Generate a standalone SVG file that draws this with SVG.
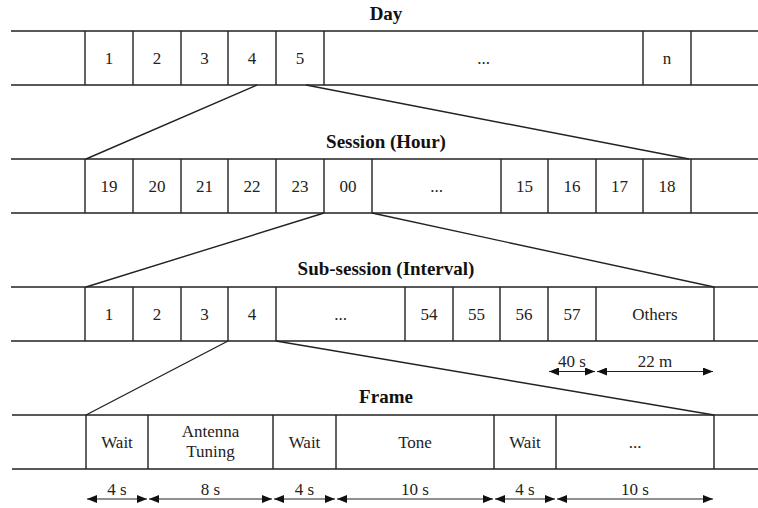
<svg xmlns="http://www.w3.org/2000/svg" width="758" height="508" viewBox="0 0 758 508">
<defs>
<style>
.ln{stroke:#222;stroke-width:1.4;fill:none}
.t{font-size:17px;fill:#222;text-anchor:middle}
.h{font-size:19px;font-weight:bold;fill:#111;text-anchor:middle}
.ar{stroke:#222;stroke-width:1.2;fill:none;marker-start:url(#a);marker-end:url(#a)}
</style>
<marker id="a" viewBox="0 0 10 8" refX="10" refY="4" markerWidth="10" markerHeight="8" markerUnits="userSpaceOnUse" orient="auto-start-reverse">
<path d="M0,0 L10,4 L0,8 Z" fill="#111"/>
</marker>
</defs>
<rect width="758" height="508" fill="#fff"/>
<g font-family="'Liberation Serif', 'Times New Roman', Times, 'DejaVu Serif', serif">
<text class="h" x="386" y="20">Day</text>
<text class="h" x="386" y="148">Session (Hour)</text>
<text class="h" x="386" y="275">Sub-session (Interval)</text>
<text class="h" x="386" y="403">Frame</text>

<g id="row-day">
<path class="ln" d="M11,31 H758 M11,85 H758 M85,31 V85 M133,31 V85 M181,31 V85 M228,31 V85 M276,31 V85 M324,31 V85 M643,31 V85 M691,31 V85"/>
<text class="t" x="109" y="64">1</text>
<text class="t" x="157" y="64">2</text>
<text class="t" x="204.5" y="64">3</text>
<text class="t" x="252" y="64">4</text>
<text class="t" x="300" y="64">5</text>
<text class="t" x="483.5" y="64">...</text>
<text class="t" x="667" y="64">n</text>
</g>

<g id="row-session">
<path class="ln" d="M11,159 H758 M11,213 H758 M85,159 V213 M133,159 V213 M181,159 V213 M228,159 V213 M276,159 V213 M324,159 V213 M372,159 V213 M501,159 V213 M548,159 V213 M596,159 V213 M643,159 V213 M691,159 V213"/>
<text class="t" x="109" y="192">19</text>
<text class="t" x="157" y="192">20</text>
<text class="t" x="204.5" y="192">21</text>
<text class="t" x="252" y="192">22</text>
<text class="t" x="300" y="192">23</text>
<text class="t" x="348" y="192">00</text>
<text class="t" x="436.5" y="192">...</text>
<text class="t" x="524.5" y="192">15</text>
<text class="t" x="572" y="192">16</text>
<text class="t" x="619.5" y="192">17</text>
<text class="t" x="667" y="192">18</text>
</g>

<g id="row-subsession">
<path class="ln" d="M11,287 H758 M11,341 H758 M85,287 V341 M133,287 V341 M181,287 V341 M228,287 V341 M276,287 V341 M405,287 V341 M453,287 V341 M500,287 V341 M548,287 V341 M596,287 V341 M714,287 V341"/>
<text class="t" x="109" y="320">1</text>
<text class="t" x="157" y="320">2</text>
<text class="t" x="204.5" y="320">3</text>
<text class="t" x="252" y="320">4</text>
<text class="t" x="340.5" y="320">...</text>
<text class="t" x="429" y="320">54</text>
<text class="t" x="476.5" y="320">55</text>
<text class="t" x="524" y="320">56</text>
<text class="t" x="572" y="320">57</text>
<text class="t" x="655" y="320">Others</text>
</g>

<g id="row-frame">
<path class="ln" d="M12,415 H758 M12,469 H758 M86,415 V469 M148,415 V469 M273,415 V469 M336,415 V469 M494,415 V469 M556,415 V469 M714,415 V469"/>
<text class="t" x="117" y="448">Wait</text>
<text class="t" x="210.5" y="437">Antenna</text>
<text class="t" x="210.5" y="457">Tuning</text>
<text class="t" x="304.5" y="448">Wait</text>
<text class="t" x="415" y="448">Tone</text>
<text class="t" x="525" y="448">Wait</text>
<text class="t" x="635" y="448">...</text>
</g>

<g id="connectors">
<path class="ln" d="M257,85 L86,159 M306,85 L689,159 M324,213 L86,287 M372,213 L714,287 M228,341 L86,415 M276,341 L714,415"/>
<path class="ar" d="M549,371.5 H595"/>
<path class="ar" d="M597,371.5 H713"/>
<path class="ar" d="M87,499 H147"/>
<path class="ar" d="M149,499 H272"/>
<path class="ar" d="M274,499 H335"/>
<path class="ar" d="M337,499 H493"/>
<path class="ar" d="M495,499 H555"/>
<path class="ar" d="M557,499 H713"/>
</g>

<g id="dimension-labels">
<text class="t" x="572" y="367">40 s</text>
<text class="t" x="655" y="367">22 m</text>
<text class="t" x="117" y="495">4 s</text>
<text class="t" x="210.5" y="495">8 s</text>
<text class="t" x="304.5" y="495">4 s</text>
<text class="t" x="415" y="495">10 s</text>
<text class="t" x="525" y="495">4 s</text>
<text class="t" x="635" y="495">10 s</text>
</g>
</g>
</svg>
